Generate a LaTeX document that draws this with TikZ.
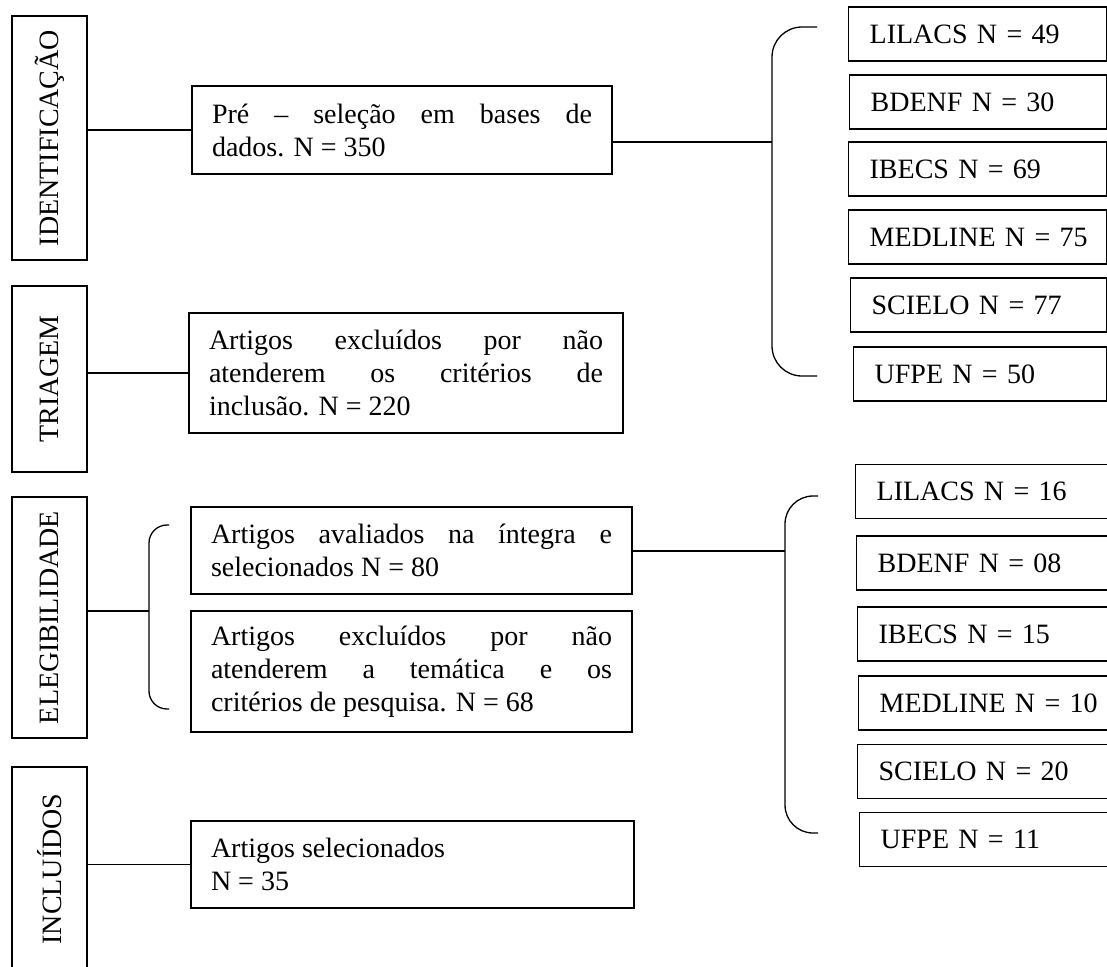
\documentclass[tikz,border=0pt]{standalone}
\usepackage{fontspec}
\setmainfont{Liberation Serif}
\usepackage{graphicx}
\tolerance=10000
\hbadness=10000
\hyphenpenalty=10000

\tikzset{
  stage/.style={draw, line width=1.3pt, minimum width=75pt, inner sep=0pt},
  stepbox/.style={draw, line width=1.3pt, inner xsep=20pt, inner ysep=0pt, align=justify},
  base/.style={draw, line width=1.3pt, anchor=west, minimum height=54pt, inner xsep=21pt, inner ysep=0pt, align=left},
  link/.style={line width=1.3pt},
  brace/.style={line width=1.3pt},
}

\begin{document}
\begin{tikzpicture}[x=1pt, y=-1pt, font=\fontsize{28}{33}\selectfont]
      \useasboundingbox (0,0) rectangle (1107,966);
      \clip (0,0) rectangle (1107,966);
      %
      \node[stage, minimum height=244pt] (idf) at (49.5,138) {\rotatebox{90}{IDENTIFICAÇÃO}};
      \node[stage, minimum height=186pt] (tri) at (49.5,379) {\rotatebox{90}{TRIAGEM}};
      \node[stage, minimum height=241pt] (ele) at (49.5,617.5) {\rotatebox{90}{ELEGIBILIDADE}};
      \node[stage, minimum height=204pt] (inc) at (49.5,869) {\rotatebox{90}{INCLUÍDOS}};
      %%
      \node[stepbox, text width=380pt, minimum height=88pt] (pre) at (402,130)
        {Pré – seleção em bases de\linebreak dados. N = 350};
      \node[stepbox, text width=394pt, minimum height=120pt] (exa) at (406,373)
        {Artigos excluídos por não\linebreak atenderem os critérios de\linebreak inclusão. N = 220};
      \node[stepbox, text width=401pt, minimum height=87pt] (ava) at (411.5,550.5)
        {Artigos avaliados na íntegra e\linebreak selecionados N = 80};
      \node[stepbox, text width=401pt, minimum height=121pt] (exb) at (411.5,671.5)
        {Artigos excluídos por não\linebreak atenderem a temática e os\linebreak critérios de pesquisa. N = 68};
      \node[stepbox, text width=403pt, minimum height=87pt] (sel) at (412.5,864.5)
        {Artigos selecionados\newline N = 35};
      %%
      \draw[link] (pre.west) -- (pre.west -| idf.east);    % identificacao
      \draw[link] (exa.west) -- (exa.west -| tri.east);    % triagem
      \draw[link] (sel.west) -- (sel.west -| inc.east);    % incluidos
      \coordinate (b3) at (149,611);
      \draw[link] (ele.east |- b3) -- (b3);                % elegibilidade
      \draw[brace, rounded corners=18pt] (169,525) -- (149,525) -- (149,709) -- (169,709);
      %
      % bases, pre-selecao
      \foreach \xl/\yc/\i/\txt in {848/34/1/LILACS N = 49, 849/102/2/BDENF N = 30,
          848/169/3/IBECS N = 69, 848/237/4/MEDLINE N = 75, 850/305/5/SCIELO N = 77,
          853/374/6/UFPE N = 50}{
        \pgfmathsetmacro\bw{1106-\xl}
        \pgfmathsetmacro\tw{\bw-42}
        \node[base, minimum width=\bw pt, text width=\tw pt] (pa\i) at (\xl,\yc) {\mbox{\txt}};
      }
      \coordinate (b1) at (772,142);
      \draw[link] (pre.east |- b1) -- (b1);
      \draw[brace, rounded corners=30pt] (817,27) -- (772,27) -- (772,376) -- (817,376);
      %
      % bases, selecionados
      \foreach \xl/\yc/\i/\txt in {855/491.5/1/LILACS N = 16, 856/563/2/BDENF N = 08,
          857/634/3/IBECS N = 15, 858/703/4/MEDLINE N = 10, 857/771.5/5/SCIELO N = 20,
          859/839.5/6/UFPE N = 11}{
        \pgfmathsetmacro\bw{1112-\xl}
        \pgfmathsetmacro\tw{\bw-42}
        \node[base, minimum width=\bw pt, text width=\tw pt] (pb\i) at (\xl,\yc) {\mbox{\txt}};
      }
      \coordinate (b2) at (785,551);
      \draw[link] (ava.east |- b2) -- (b2);
      \draw[brace, rounded corners=28pt] (818,496) -- (785,496) -- (785,833) -- (818,833);
      %
    \end{tikzpicture}
\end{document}
